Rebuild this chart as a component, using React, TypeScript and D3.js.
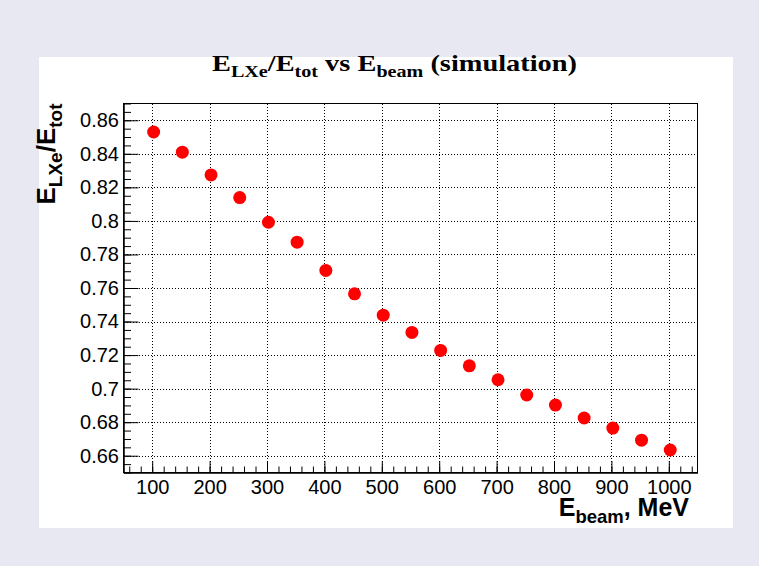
import React, { useEffect, useRef } from 'react';
import * as d3 from 'd3';

// beam energy, MeV
const beamEnergy = [102.5, 152.5, 202.5, 252.5, 302.5, 352.5, 402.5, 452.5, 502.5, 552.5,
  602.5, 652.5, 702.5, 752.5, 802.5, 852.5, 902.5, 952.5, 1002.5];
// fraction of energy in LXe, simulation
const lxeFraction = [0.853, 0.841, 0.8274, 0.8139, 0.7992, 0.7873, 0.7705, 0.7565, 0.7438, 0.7335,
  0.7228, 0.7136, 0.7053, 0.6962, 0.6902, 0.6825, 0.6765, 0.6693, 0.6634];

const xMajorTicks = [100, 200, 300, 400, 500, 600, 700, 800, 900, 1000];
const yMajorTicks = [0.66, 0.68, 0.7, 0.72, 0.74, 0.76, 0.78, 0.8, 0.82, 0.84, 0.86];
const yTickLabels = ['0.66', '0.68', '0.7', '0.72', '0.74', '0.76', '0.78', '0.8', '0.82', '0.84', '0.86'];

const App = () => {
  const svgRef = useRef<SVGSVGElement>(null);

  useEffect(() => {
    if (!svgRef.current) return;
    const svg = d3.select(svgRef.current);
    svg.selectAll('*').remove();

    const width = 759;
    const height = 566;
    const frame = { left: 123.5, top: 103.5, right: 697.5, bottom: 472.5 };
    const sans = 'Liberation Sans, Arial, Helvetica, sans-serif';
    const serif = 'Liberation Serif, Times New Roman, serif';

    svg.attr('width', width).attr('height', height);

    svg.append('rect').attr('width', width).attr('height', height).attr('fill', '#e8e8f3');
    svg.append('rect')
      .attr('x', 39).attr('y', 57).attr('width', 694).attr('height', 471)
      .attr('fill', '#ffffff');

    const x = d3.scaleLinear().domain([50, 1050]).range([frame.left, frame.right]);
    const y = d3.scaleLinear().domain([0.65, 0.87]).range([frame.bottom, frame.top]);

    // grid
    const grid = svg.append('g')
      .attr('stroke', '#000')
      .attr('stroke-width', 1)
      .attr('stroke-dasharray', '1,2')
      .attr('shape-rendering', 'crispEdges');
    grid.selectAll('.gx')
      .data(xMajorTicks)
      .join('line')
      .attr('class', 'gx')
      .attr('x1', d => Math.round(x(d)) + 0.5).attr('x2', d => Math.round(x(d)) + 0.5)
      .attr('y1', frame.top).attr('y2', frame.bottom);
    grid.selectAll('.gy')
      .data(yMajorTicks)
      .join('line')
      .attr('class', 'gy')
      .attr('y1', d => Math.round(y(d)) + 0.5).attr('y2', d => Math.round(y(d)) + 0.5)
      .attr('x1', frame.left).attr('x2', frame.right);

    // axes, ticks inside the frame
    const styleAxis = (g) => {
      g.attr('font-family', sans).attr('font-size', 20);
      g.selectAll('path').attr('stroke', '#000');
      g.selectAll('line').attr('stroke', '#000');
      g.selectAll('text').attr('fill', '#000');
    };

    svg.append('g')
      .attr('transform', `translate(${frame.left},0)`)
      .call(d3.axisLeft(y).tickValues(d3.range(0.65, 0.8701, 0.005)).tickSize(-7.5).tickSizeOuter(0).tickFormat(() => ''))
      .call(styleAxis);
    svg.append('g')
      .attr('transform', `translate(${frame.left},0)`)
      .call(d3.axisLeft(y).tickValues(yMajorTicks).tickSize(-15).tickSizeOuter(0).tickPadding(4.5)
        .tickFormat((d, i) => yTickLabels[i]))
      .call(styleAxis);

    svg.append('g')
      .attr('transform', `translate(0,${frame.bottom})`)
      .call(d3.axisBottom(x).tickValues(d3.range(60, 1041, 20)).tickSize(-6).tickSizeOuter(0).tickFormat(() => ''))
      .call(styleAxis);
    svg.append('g')
      .attr('transform', `translate(0,${frame.bottom})`)
      .call(d3.axisBottom(x).tickValues(xMajorTicks).tickSize(-11.5).tickSizeOuter(0).tickPadding(7.5)
        .tickFormat(d => String(d)))
      .call(styleAxis);

    // frame box
    svg.append('rect')
      .attr('x', frame.left).attr('y', frame.top)
      .attr('width', frame.right - frame.left).attr('height', frame.bottom - frame.top)
      .attr('fill', 'none').attr('stroke', '#000').attr('stroke-width', 1);

    // points
    svg.append('g')
      .selectAll('circle')
      .data(beamEnergy)
      .join('circle')
      .attr('cx', d => x(d))
      .attr('cy', (d, i) => y(lxeFraction[i]))
      .attr('r', 6.5)
      .attr('fill', '#ff0000');

    // title
    const title = svg.append('text')
      .attr('x', 212).attr('y', 77)
      .attr('font-family', serif).attr('font-weight', 'bold').attr('font-size', 24)
      .attr('textLength', 365).attr('lengthAdjust', 'spacingAndGlyphs')
      .style('white-space', 'pre');
    const addParts = (t, parts, shift, subSize) => {
      parts.forEach(([txt, sub]) => {
        t.append('tspan')
          .attr('dy', sub ? shift : (t.node().childNodes.length ? -shift : 0))
          .attr('font-size', sub ? subSize : null)
          .text(txt);
      });
    };
    addParts(title, [['E', false], ['LXe', true], ['/E', false], ['tot', true], [' vs E', false],
      ['beam', true], [' (simulation)', false]], 6.5, 17);

    // y label
    const yLabel = svg.append('text')
      .attr('transform', `translate(62,${frame.top}) rotate(-90)`)
      .attr('text-anchor', 'end')
      .attr('font-family', sans).attr('font-weight', 'bold').attr('font-size', 26);
    addParts(yLabel, [['E', false], ['LXe', true], ['/E', false], ['tot', true]], 7, 19);

    // x label
    const xLabel = svg.append('text')
      .attr('x', 689).attr('y', 523)
      .attr('text-anchor', 'end')
      .attr('font-family', sans).attr('font-weight', 'bold').attr('font-size', 25)
      .style('white-space', 'pre');
    addParts(xLabel, [['E', false], ['beam', true], [', MeV', false]], 7.5, 18.5);
  }, []);

  return (
    <svg ref={svgRef} style={{ position: 'absolute', left: 0, top: 0 }}></svg>
  );
};

export default App;
